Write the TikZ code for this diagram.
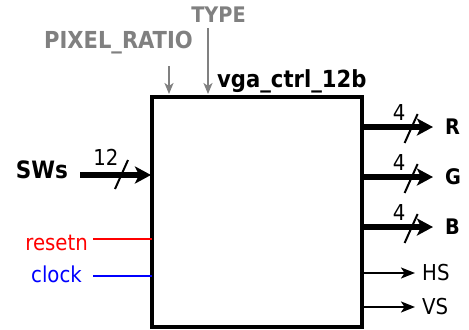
\documentclass[tikz,border=0pt]{standalone}
\usepackage{fontspec}
\setmainfont{DejaVu Sans Condensed}
\usepackage{xcolor}
\usetikzlibrary{arrows.meta,calc,positioning}
\definecolor{paramgray}{RGB}{128,128,128}
\definecolor{rstred}{RGB}{255,0,0}
\definecolor{clkblue}{RGB}{0,0,255}

\begin{document}
\begin{tikzpicture}[x=1bp,y=-1bp, line join=miter, >=Stealth,
    blk/.style={draw,line width=3.2bp,minimum width=210bp,minimum height=230bp,inner sep=0pt},
    bus/.style={line width=5.4bp,-{Stealth[length=16bp,width=17bp,inset=4bp]}},
    wire/.style={line width=2.2bp,-{Stealth[length=14bp,width=11bp,inset=3.5bp]}},
    param/.style={paramgray,line width=2bp,-{Stealth[length=11bp,width=9bp,inset=3bp]}},
    slashln/.style={line width=2bp},
    lbl/.style={font=\fontsize{22}{24}\selectfont,inner sep=0pt},
    blbl/.style={font=\bfseries\fontsize{21.5}{24}\selectfont,inner sep=0pt}]
    % frame
    \useasboundingbox (0,0) rectangle (469,329);
    % block
    \node[blk] (ctrl) at (257,212) {};
    \node[blbl,font=\bfseries\fontsize{23.6}{26}\selectfont,anchor=base west] (name) at (217,87) {vga\_ctrl\_12b};
    % generics
    \node[blbl,paramgray,anchor=base,inner ysep=6bp] (type) at (218.5,22) {TYPE};
    \node[blbl,font=\bfseries\fontsize{23.5}{26}\selectfont,paramgray,anchor=base,inner ysep=12bp] (pix) at (118.5,48.5) {PIXEL\_RATIO};
    \coordinate (typeat) at (208,94);
    \coordinate (pixat) at (169,94);
    \draw[param] (type.south -| typeat) -- (typeat);
    \draw[param] (pix.south -| pixat) -- (pixat);
    % inputs
    \node[blbl,font=\bfseries\fontsize{24}{26}\selectfont,anchor=base east,inner xsep=12bp] (sws) at (80,178) {SWs};
    \coordinate (swsat) at (151,175);
    \draw[bus] (swsat -| sws.east) -- (swsat);
    \draw[slashln] (115,189) -- (128,160);
    \node[lbl] (swsn) at (106,157) {12};
    \node[lbl,rstred,anchor=base east,inner xsep=5bp] (rst) at (93,250) {resetn};
    \node[lbl,clkblue,anchor=base east,inner xsep=11bp] (clk) at (93,282) {clock};
    \coordinate (rstat) at (152,239);
    \coordinate (clkat) at (152,276);
    \draw[rstred,line width=2.2bp] (rstat -| rst.east) -- (rstat);
    \draw[clkblue,line width=2.2bp] (clkat -| clk.east) -- (clkat);
    % outputs
    \foreach \sig/\yy in {R/127,G/177,B/227} {
        \node[blbl,anchor=west,inner xsep=12bp] (\sig) at (433,\yy) {\sig};
        \draw[bus] (ctrl.east |- \sig.west) -- (\sig.west);
        \draw[slashln] ($(ctrl.east |- \sig.west)+(41,16)$) -- ++(13,-29);
        \node[lbl] (\sig n) at ($(ctrl.east |- \sig.west)+(35.5,-14.5)$) {4};
    }
    \foreach \sig/\yy in {HS/273,VS/307} {
        \node[lbl,anchor=west,inner xsep=7bp] (\sig) at (415,\yy) {\sig};
        \draw[wire] (ctrl.east |- \sig.west) -- (\sig.west);
    }
\end{tikzpicture}
\end{document}
